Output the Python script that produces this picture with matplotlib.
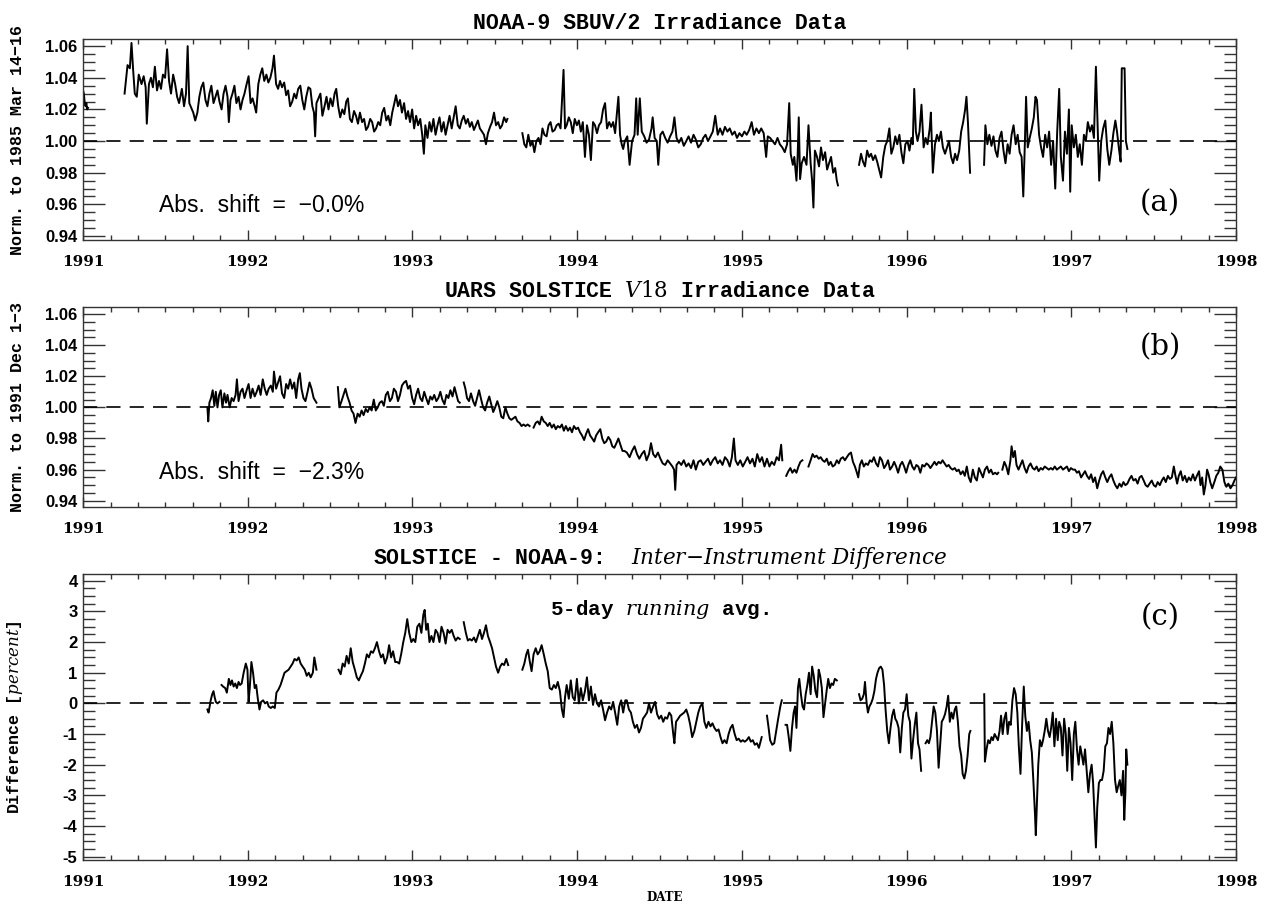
import numpy as np
import matplotlib
matplotlib.use("Agg")
import matplotlib.pyplot as plt
from matplotlib.ticker import MultipleLocator, FormatStrFormatter

# ==============================================================
# DATOS
# ==============================================================
GAP = float("nan")

# --- (a) NOAA-9 SBUV/2 ---
noaa_t = [
    1991.000, 1991.005, 1991.010, 1991.015, 1991.020, 1991.025, 1991.030, GAP,
    1991.252, 1991.270, 1991.284, 1991.294, 1991.304, 1991.314, 1991.326, 1991.338, 1991.355, 1991.368,
    1991.380, 1991.387, 1991.400, 1991.412, 1991.424, 1991.436, 1991.449, 1991.461, 1991.473, 1991.485,
    1991.498, 1991.510, 1991.522, 1991.534, 1991.547, 1991.559, 1991.571, 1991.583, 1991.600, 1991.613,
    1991.625, 1991.635, 1991.645, 1991.657, 1991.669, 1991.681, 1991.694, 1991.706, 1991.718, 1991.730,
    1991.743, 1991.755, 1991.767, 1991.779, 1991.792, 1991.804, 1991.816, 1991.828, 1991.841, 1991.853,
    1991.865, 1991.877, 1991.885, 1991.895, 1991.907, 1991.919, 1991.931, 1991.944, 1991.956, 1991.968,
    1991.980, 1991.993, 1992.005, 1992.017, 1992.029, 1992.042, 1992.051, 1992.064, 1992.076, 1992.088,
    1992.100, 1992.113, 1992.125, 1992.137, 1992.150, 1992.159, 1992.172, 1992.184, 1992.196, 1992.208,
    1992.221, 1992.233, 1992.245, 1992.257, 1992.270, 1992.282, 1992.294, 1992.306, 1992.319, 1992.331,
    1992.343, 1992.355, 1992.368, 1992.380, 1992.392, 1992.402, 1992.409, 1992.417, 1992.429, 1992.441,
    1992.453, 1992.466, 1992.478, 1992.490, 1992.502, 1992.515, 1992.527, 1992.537, 1992.549, 1992.561,
    1992.574, 1992.586, 1992.598, 1992.608, 1992.620, 1992.632, 1992.645, 1992.657, 1992.669, 1992.681,
    1992.694, 1992.706, 1992.718, 1992.730, 1992.743, 1992.755, 1992.767, 1992.779, 1992.792, 1992.804,
    1992.816, 1992.828, 1992.841, 1992.853, 1992.865, 1992.877, 1992.890, 1992.900, 1992.912, 1992.924,
    1992.936, 1992.949, 1992.961, 1992.973, 1992.985, 1992.998, 1993.010, 1993.022, 1993.034, 1993.047,
    1993.059, 1993.069, 1993.078, 1993.091, 1993.103, 1993.115, 1993.127, 1993.140, 1993.152, 1993.164,
    1993.176, 1993.189, 1993.201, 1993.213, 1993.225, 1993.238, 1993.250, 1993.262, 1993.275, 1993.287,
    1993.299, 1993.311, 1993.324, 1993.336, 1993.348, 1993.360, 1993.373, 1993.385, 1993.397, 1993.409,
    1993.422, 1993.434, 1993.446, 1993.458, 1993.471, 1993.483, 1993.495, 1993.507, 1993.520, 1993.532,
    1993.544, 1993.556, 1993.569, 1993.576, GAP,
    1993.667, 1993.679, 1993.691, 1993.703, 1993.716, 1993.728, 1993.740, 1993.752, 1993.765, 1993.777,
    1993.789, 1993.801, 1993.814, 1993.826, 1993.838, 1993.850, 1993.863, 1993.875, 1993.887, 1993.899,
    1993.917, 1993.926, 1993.936, 1993.949, 1993.961, 1993.973, 1993.985, 1993.998, 1994.010, 1994.022,
    1994.034, 1994.047, 1994.059, 1994.071, 1994.083, 1994.096, 1994.108, 1994.120, 1994.132, 1994.145,
    1994.157, 1994.169, 1994.181, 1994.194, 1994.206, 1994.218, 1994.230, 1994.250, 1994.260, 1994.270,
    1994.279, 1994.289, 1994.304, 1994.318, 1994.333, 1994.348, 1994.358, 1994.367, 1994.380, 1994.392,
    1994.407, 1994.421, 1994.436, 1994.451, 1994.458, 1994.470, 1994.483, 1994.492, 1994.505, 1994.519,
    1994.534, 1994.549, 1994.564, 1994.578, 1994.590, 1994.603, 1994.617, 1994.632, 1994.647, 1994.662,
    1994.676, 1994.691, 1994.706, 1994.720, 1994.735, 1994.750, 1994.765, 1994.779, 1994.794, 1994.809,
    1994.823, 1994.838, 1994.853, 1994.867, 1994.882, 1994.897, 1994.912, 1994.926, 1994.941, 1994.956,
    1994.970, 1994.985, 1995.000, 1995.015, 1995.029, 1995.044, 1995.059, 1995.073, 1995.088, 1995.103,
    1995.117, 1995.132, 1995.147, 1995.157, 1995.171, 1995.186, 1995.201, 1995.216, 1995.230, 1995.245,
    1995.260, 1995.274, 1995.287, 1995.296, 1995.309, 1995.318, 1995.331, 1995.338, 1995.345, 1995.353,
    1995.363, 1995.377, 1995.392, 1995.404, 1995.417, 1995.426, 1995.434, 1995.443, 1995.456, 1995.468,
    1995.480, 1995.492, 1995.505, 1995.517, 1995.529, 1995.541, 1995.554, 1995.566, 1995.576, 1995.583, GAP,
    1995.711, 1995.723, 1995.735, 1995.747, 1995.760, 1995.772, 1995.784, 1995.796, 1995.809, 1995.821,
    1995.833, 1995.845, 1995.858, 1995.870, 1995.882, 1995.895, 1995.907, 1995.919, 1995.931, 1995.943,
    1995.956, 1995.968, 1995.980, 1995.992, 1996.005, 1996.017, 1996.029, 1996.037, 1996.046, 1996.056,
    1996.066, 1996.078, 1996.090, 1996.103, 1996.115, 1996.127, 1996.140, 1996.147, 1996.159, 1996.172,
    1996.184, 1996.196, 1996.208, 1996.220, 1996.233, 1996.245, 1996.257, 1996.270, 1996.282, 1996.294,
    1996.306, 1996.319, 1996.331, 1996.343, 1996.355, 1996.363, 1996.372, 1996.380, 1996.385, GAP,
    1996.470, 1996.478, 1996.490, 1996.502, 1996.515, 1996.527, 1996.539, 1996.551, 1996.564, 1996.576,
    1996.588, 1996.600, 1996.613, 1996.625, 1996.637, 1996.649, 1996.662, 1996.674, 1996.686, 1996.698,
    1996.708, 1996.718, 1996.725, 1996.735, 1996.747, 1996.760, 1996.772, 1996.782, 1996.791, 1996.804,
    1996.816, 1996.828, 1996.841, 1996.853, 1996.865, 1996.877, 1996.889, 1996.902, 1996.914, 1996.926,
    1996.936, 1996.949, 1996.961, 1996.973, 1996.985, 1996.993, 1997.002, 1997.015, 1997.027, 1997.039,
    1997.051, 1997.064, 1997.076, 1997.088, 1997.100, 1997.113, 1997.125, 1997.137, 1997.149, 1997.159,
    1997.169, 1997.181, 1997.193, 1997.206, 1997.218, 1997.230, 1997.243, 1997.255, 1997.267, 1997.277,
    1997.289, 1997.299, 1997.306, 1997.323, 1997.331, 1997.340,
]
noaa_v = [
    1.032, 1.030, 1.024, 1.022, 1.024, 1.020, 1.021, GAP,
    1.030, 1.048, 1.046, 1.062, 1.045, 1.030, 1.028, 1.042, 1.036, 1.041,
    1.034, 1.011, 1.036, 1.040, 1.034, 1.047, 1.032, 1.038, 1.033, 1.042,
    1.040, 1.058, 1.038, 1.030, 1.042, 1.036, 1.028, 1.024, 1.033, 1.022,
    1.030, 1.060, 1.024, 1.021, 1.018, 1.013, 1.018, 1.028, 1.034, 1.037,
    1.026, 1.022, 1.030, 1.035, 1.024, 1.028, 1.032, 1.025, 1.020, 1.030,
    1.035, 1.028, 1.012, 1.026, 1.030, 1.035, 1.024, 1.028, 1.020, 1.026,
    1.030, 1.036, 1.041, 1.024, 1.027, 1.022, 1.018, 1.036, 1.042, 1.046,
    1.038, 1.042, 1.037, 1.040, 1.046, 1.054, 1.036, 1.033, 1.038, 1.034,
    1.037, 1.029, 1.032, 1.022, 1.025, 1.030, 1.027, 1.033, 1.035, 1.026,
    1.020, 1.028, 1.034, 1.033, 1.022, 1.018, 1.003, 1.024, 1.027, 1.030,
    1.016, 1.022, 1.028, 1.020, 1.027, 1.022, 1.030, 1.033, 1.022, 1.015,
    1.020, 1.017, 1.025, 1.027, 1.014, 1.012, 1.019, 1.016, 1.011, 1.018,
    1.012, 1.014, 1.007, 1.009, 1.014, 1.012, 1.006, 1.008, 1.012, 1.010,
    1.018, 1.021, 1.013, 1.016, 1.010, 1.018, 1.024, 1.029, 1.022, 1.026,
    1.018, 1.024, 1.014, 1.019, 1.012, 1.020, 1.008, 1.016, 1.010, 1.014,
    1.004, 0.992, 1.010, 1.002, 1.012, 1.006, 1.014, 1.004, 1.010, 1.015,
    1.006, 1.012, 1.004, 1.010, 1.016, 1.008, 1.015, 1.022, 1.010, 1.008,
    1.013, 1.016, 1.011, 1.014, 1.009, 1.012, 1.007, 1.010, 1.013, 1.008,
    1.006, 1.004, 0.998, 1.005, 1.009, 1.012, 1.018, 1.010, 1.012, 1.008,
    1.010, 1.015, 1.012, 1.014, GAP,
    1.005, 0.998, 0.996, 1.004, 0.997, 1.000, 0.993, 1.000, 1.002, 0.998,
    1.008, 1.004, 1.003, 1.010, 1.012, 1.006, 1.007, 1.010, 1.011, 1.008,
    1.045, 1.008, 1.010, 1.015, 1.012, 1.005, 1.014, 1.010, 1.013, 1.006,
    1.012, 0.990, 1.010, 1.004, 0.988, 1.012, 1.010, 1.005, 1.010, 1.012,
    1.020, 1.024, 1.008, 1.012, 1.009, 1.012, 1.005, 1.028, 1.004, 0.998,
    0.995, 1.000, 1.003, 0.985, 1.000, 1.004, 1.027, 1.004, 1.027, 1.006,
    1.003, 0.999, 1.001, 1.008, 1.015, 1.002, 1.000, 0.985, 1.004, 1.006,
    1.002, 0.999, 1.003, 1.006, 1.015, 1.002, 0.999, 1.002, 0.997, 1.000,
    1.003, 0.999, 1.004, 1.001, 0.996, 0.998, 1.002, 1.004, 1.000, 1.003,
    1.006, 1.016, 1.004, 1.008, 1.004, 1.009, 1.006, 1.008, 1.004, 1.006,
    1.002, 1.005, 1.003, 1.006, 1.004, 1.007, 1.012, 1.004, 1.008, 1.005,
    1.008, 1.005, 0.990, 1.003, 1.002, 1.000, 0.998, 1.002, 0.998, 0.996,
    0.993, 0.998, 1.024, 0.992, 0.985, 0.990, 0.975, 0.990, 1.015, 0.976,
    0.986, 0.990, 0.985, 1.010, 0.986, 0.975, 0.958, 0.994, 0.990, 0.984,
    0.996, 0.988, 0.993, 0.982, 0.986, 0.990, 0.980, 0.983, 0.975, 0.972, GAP,
    0.985, 0.992, 0.987, 0.984, 0.994, 0.990, 0.992, 0.988, 0.991, 0.987,
    0.982, 0.977, 0.990, 0.997, 1.000, 1.008, 0.992, 0.996, 1.003, 0.998,
    1.004, 0.993, 0.986, 0.998, 1.000, 0.994, 1.002, 0.998, 1.033, 1.006,
    1.000, 1.006, 1.023, 0.996, 1.002, 0.998, 1.008, 1.018, 0.980, 0.998,
    1.004, 1.000, 1.006, 0.996, 0.992, 0.996, 1.000, 0.990, 0.986, 0.992,
    0.988, 0.994, 1.006, 1.012, 1.020, 1.028, 1.012, 0.992, 0.980, GAP,
    0.985, 1.010, 0.998, 1.004, 0.997, 1.003, 0.994, 0.990, 1.002, 1.006,
    0.994, 0.986, 0.998, 0.992, 1.004, 1.010, 0.998, 1.004, 0.993, 0.990,
    0.965, 1.000, 1.028, 0.996, 1.002, 1.008, 1.015, 1.028, 1.026, 1.004,
    0.996, 0.990, 1.004, 0.996, 1.006, 0.985, 1.000, 0.970, 1.006, 1.033,
    0.990, 0.975, 1.006, 0.992, 1.020, 0.968, 1.010, 0.996, 1.004, 0.990,
    0.998, 0.985, 1.004, 1.000, 1.012, 1.006, 1.010, 1.002, 1.047, 1.010,
    0.975, 1.000, 1.008, 1.013, 0.995, 0.985, 0.994, 1.005, 1.013, 1.006,
    0.995, 0.987, 1.046, 1.046, 1.000, 0.995,
]

# --- (b) UARS SOLSTICE V18 ---
sol_t = [
    1991.755, 1991.760, 1991.767, 1991.777, 1991.787, 1991.797, 1991.806, 1991.816, 1991.826, 1991.836,
    1991.846, 1991.858, 1991.868, 1991.877, 1991.890, 1991.902, 1991.914, 1991.926, 1991.934, 1991.944,
    1991.956, 1991.968, 1991.980, 1991.993, 1992.005, 1992.017, 1992.029, 1992.042, 1992.054, 1992.066,
    1992.078, 1992.091, 1992.103, 1992.115, 1992.127, 1992.140, 1992.152, 1992.159, 1992.172, 1992.184,
    1992.196, 1992.208, 1992.221, 1992.233, 1992.245, 1992.257, 1992.270, 1992.282, 1992.294, 1992.306,
    1992.316, 1992.326, 1992.338, 1992.350, 1992.363, 1992.375, 1992.387, 1992.400, 1992.417, GAP,
    1992.547, 1992.556, 1992.569, 1992.581, 1992.593, 1992.605, 1992.618, 1992.630, 1992.642, 1992.654,
    1992.667, 1992.679, 1992.691, 1992.703, 1992.716, 1992.728, 1992.740, 1992.752, 1992.765, 1992.777,
    1992.789, 1992.801, 1992.814, 1992.826, 1992.838, 1992.850, 1992.863, 1992.875, 1992.887, 1992.900,
    1992.912, 1992.924, 1992.936, 1992.949, 1992.961, 1992.973, 1992.985, 1992.998, 1993.010, 1993.022,
    1993.034, 1993.047, 1993.059, 1993.071, 1993.083, 1993.096, 1993.108, 1993.120, 1993.132, 1993.145,
    1993.157, 1993.169, 1993.181, 1993.194, 1993.206, 1993.218, 1993.230, 1993.243, 1993.255, 1993.267,
    1993.277, 1993.287, GAP,
    1993.311, 1993.321, 1993.331, 1993.343, 1993.355, 1993.368, 1993.380, 1993.392, 1993.404, 1993.417,
    1993.429, 1993.441, 1993.453, 1993.466, 1993.478, 1993.490, 1993.502, 1993.515, 1993.527, 1993.539,
    1993.551, 1993.564, 1993.576, 1993.588, 1993.600, 1993.613, 1993.625, 1993.637, 1993.650, 1993.662,
    1993.674, 1993.686, 1993.699, 1993.711, GAP,
    1993.735, 1993.748, 1993.760, 1993.772, 1993.784, 1993.797, 1993.809, 1993.821, 1993.833, 1993.846,
    1993.858, 1993.870, 1993.882, 1993.895, 1993.907, 1993.919, 1993.931, 1993.944, 1993.956, 1993.968,
    1993.980, 1993.993, 1994.005, 1994.017, 1994.029, 1994.042, 1994.054, 1994.066, 1994.078, 1994.091,
    1994.103, 1994.115, 1994.127, 1994.140, 1994.152, 1994.164, 1994.176, 1994.189, 1994.201, 1994.213,
    1994.225, 1994.238, 1994.250, 1994.262, 1994.275, 1994.287, 1994.301, 1994.318, 1994.333, 1994.348,
    1994.363, 1994.377, 1994.392, 1994.407, 1994.421, 1994.436, 1994.448, 1994.461, 1994.475, 1994.490,
    1994.505, 1994.519, 1994.534, 1994.549, 1994.564, 1994.578, 1994.588, 1994.595, 1994.603, 1994.617,
    1994.632, 1994.647, 1994.662, 1994.676, 1994.691, 1994.706, 1994.720, 1994.735, 1994.750, 1994.765,
    1994.779, 1994.794, 1994.809, 1994.823, 1994.838, 1994.853, 1994.867, 1994.882, 1994.897, 1994.912,
    1994.926, 1994.939, 1994.951, 1994.961, 1994.975, 1994.990, 1995.005, 1995.020, 1995.034, 1995.049,
    1995.064, 1995.078, 1995.093, 1995.108, 1995.122, 1995.137, 1995.152, 1995.167, 1995.181, 1995.196,
    1995.211, 1995.225, 1995.238, 1995.245, GAP,
    1995.269, 1995.282, 1995.294, 1995.306, 1995.319, 1995.331, 1995.343, 1995.355, 1995.367, GAP,
    1995.404, 1995.417, 1995.429, 1995.441, 1995.453, 1995.466, 1995.478, 1995.490, 1995.502, 1995.515,
    1995.527, 1995.539, 1995.551, 1995.564, 1995.576, 1995.588, 1995.600, 1995.613, 1995.625, 1995.637,
    1995.650, 1995.662, 1995.674, 1995.686, 1995.698, 1995.706, 1995.716, 1995.728, 1995.740, 1995.752,
    1995.765, 1995.777, 1995.789, 1995.801, 1995.814, 1995.826, 1995.838, 1995.850, 1995.863, 1995.875,
    1995.887, 1995.899, 1995.912, 1995.924, 1995.936, 1995.948, 1995.961, 1995.973, 1995.985, 1995.997,
    1996.010, 1996.022, 1996.034, 1996.046, 1996.059, 1996.071, 1996.083, 1996.095, 1996.108, 1996.120,
    1996.132, 1996.144, 1996.157, 1996.169, 1996.181, 1996.194, 1996.206, 1996.218, 1996.230, 1996.243,
    1996.255, 1996.267, 1996.279, 1996.292, 1996.304, 1996.316, 1996.328, 1996.341, 1996.353, 1996.365,
    1996.377, 1996.389, 1996.402, 1996.414, 1996.426, 1996.439, 1996.451, 1996.463, 1996.475, 1996.488,
    1996.500, 1996.512, 1996.524, 1996.537, 1996.549, 1996.556, GAP,
    1996.581, 1996.593, 1996.605, 1996.617, 1996.630, 1996.637, 1996.647, 1996.657, 1996.667, 1996.679,
    1996.691, 1996.703, 1996.716, 1996.728, 1996.740, 1996.752, 1996.765, 1996.777, 1996.789, 1996.801,
    1996.814, 1996.826, 1996.838, 1996.850, 1996.863, 1996.875, 1996.887, 1996.899, 1996.912, 1996.924,
    1996.936, 1996.949, 1996.961, 1996.973, 1996.985, 1996.997, 1997.010, 1997.022, 1997.034, 1997.046,
    1997.059, 1997.071, 1997.083, 1997.095, 1997.108, 1997.120, 1997.132, 1997.144, 1997.157, 1997.169,
    1997.181, 1997.193, 1997.206, 1997.218, 1997.230, 1997.243, 1997.255, 1997.267, 1997.279, 1997.292,
    1997.304, 1997.316, 1997.328, 1997.340, 1997.353, 1997.365, 1997.377, 1997.390, 1997.402, 1997.414,
    1997.426, 1997.439, 1997.451, 1997.463, 1997.475, 1997.488, 1997.500, 1997.512, 1997.524, 1997.537,
    1997.549, 1997.561, 1997.573, 1997.586, 1997.598, 1997.610, 1997.622, 1997.632, 1997.642, 1997.652,
    1997.664, 1997.676, 1997.689, 1997.701, 1997.713, 1997.725, 1997.738, 1997.750, 1997.762, 1997.775,
    1997.784, 1997.794, 1997.804, 1997.814, 1997.824, 1997.833, 1997.843, 1997.855, 1997.868, 1997.880,
    1997.892, 1997.904, 1997.917, 1997.929, 1997.941, 1997.953, 1997.966, 1997.978, 1997.990, 1998.000,
]
sol_v = [
    1.000, 0.991, 1.003, 1.006, 1.011, 1.001, 1.010, 1.000, 1.008, 1.011,
    1.000, 1.009, 1.003, 1.008, 1.000, 1.006, 1.004, 1.008, 1.018, 1.004,
    1.010, 1.012, 1.006, 1.011, 1.015, 1.006, 1.012, 1.007, 1.010, 1.014,
    1.008, 1.018, 1.012, 1.008, 1.012, 1.014, 1.010, 1.023, 1.012, 1.016,
    1.020, 1.009, 1.006, 1.015, 1.012, 1.018, 1.012, 1.016, 1.006, 1.018,
    1.022, 1.012, 1.006, 1.004, 1.010, 1.016, 1.012, 1.006, 1.003, GAP,
    1.013, 1.000, 1.004, 1.008, 1.012, 1.007, 1.003, 0.998, 0.996, 0.990,
    0.996, 0.994, 0.998, 0.995, 0.999, 0.997, 1.000, 0.998, 1.005, 0.998,
    1.000, 1.003, 1.004, 1.001, 1.008, 1.010, 1.004, 1.006, 1.012, 1.010,
    1.004, 1.008, 1.014, 1.016, 1.017, 1.012, 1.014, 1.006, 1.002, 1.008,
    1.012, 1.006, 1.004, 1.010, 1.006, 1.002, 1.007, 1.005, 1.008, 1.004,
    1.006, 1.010, 1.005, 1.002, 1.008, 1.006, 1.011, 1.007, 1.013, 1.008,
    1.004, 1.003, GAP,
    1.016, 1.012, 1.006, 1.004, 1.009, 1.004, 1.001, 1.006, 1.011, 1.005,
    1.000, 0.998, 1.003, 1.007, 1.002, 0.997, 1.000, 1.004, 1.000, 0.994,
    0.993, 1.000, 0.996, 0.993, 0.992, 0.993, 0.994, 0.991, 0.990, 0.988,
    0.989, 0.988, 0.989, 0.988, GAP,
    0.987, 0.990, 0.991, 0.989, 0.994, 0.991, 0.990, 0.988, 0.990, 0.987,
    0.989, 0.986, 0.988, 0.987, 0.989, 0.985, 0.988, 0.985, 0.987, 0.984,
    0.988, 0.986, 0.987, 0.984, 0.982, 0.979, 0.983, 0.986, 0.982, 0.980,
    0.978, 0.982, 0.984, 0.986, 0.980, 0.977, 0.978, 0.981, 0.979, 0.975,
    0.974, 0.977, 0.980, 0.976, 0.972, 0.972, 0.971, 0.968, 0.972, 0.975,
    0.970, 0.967, 0.970, 0.972, 0.966, 0.970, 0.977, 0.970, 0.968, 0.971,
    0.967, 0.964, 0.963, 0.966, 0.964, 0.962, 0.960, 0.947, 0.963, 0.965,
    0.963, 0.966, 0.962, 0.964, 0.961, 0.966, 0.960, 0.965, 0.966, 0.963,
    0.965, 0.967, 0.963, 0.966, 0.968, 0.964, 0.966, 0.963, 0.968, 0.966,
    0.962, 0.968, 0.980, 0.966, 0.963, 0.966, 0.962, 0.965, 0.968, 0.964,
    0.967, 0.962, 0.970, 0.965, 0.968, 0.962, 0.967, 0.962, 0.965, 0.963,
    0.968, 0.966, 0.976, 0.966, GAP,
    0.956, 0.959, 0.961, 0.958, 0.960, 0.958, 0.962, 0.965, 0.966, GAP,
    0.962, 0.966, 0.970, 0.968, 0.969, 0.967, 0.968, 0.966, 0.965, 0.967,
    0.963, 0.965, 0.962, 0.963, 0.966, 0.964, 0.967, 0.968, 0.966, 0.968,
    0.970, 0.971, 0.965, 0.962, 0.958, 0.955, 0.963, 0.966, 0.962, 0.964,
    0.963, 0.966, 0.965, 0.968, 0.964, 0.962, 0.968, 0.966, 0.961, 0.963,
    0.966, 0.960, 0.962, 0.965, 0.962, 0.958, 0.963, 0.965, 0.962, 0.958,
    0.963, 0.966, 0.962, 0.960, 0.963, 0.962, 0.958, 0.963, 0.962, 0.964,
    0.963, 0.961, 0.963, 0.965, 0.963, 0.965, 0.964, 0.966, 0.964, 0.962,
    0.963, 0.961, 0.960, 0.961, 0.959, 0.960, 0.957, 0.959, 0.956, 0.962,
    0.955, 0.952, 0.960, 0.955, 0.953, 0.961, 0.958, 0.955, 0.960, 0.962,
    0.958, 0.960, 0.957, 0.958, 0.957, 0.958, GAP,
    0.960, 0.965, 0.962, 0.957, 0.966, 0.975, 0.968, 0.972, 0.963, 0.960,
    0.963, 0.966, 0.961, 0.958, 0.962, 0.964, 0.961, 0.960, 0.962, 0.959,
    0.961, 0.960, 0.962, 0.961, 0.960, 0.961, 0.960, 0.962, 0.960, 0.961,
    0.962, 0.960, 0.961, 0.962, 0.959, 0.961, 0.960, 0.960, 0.958, 0.959,
    0.955, 0.957, 0.959, 0.956, 0.954, 0.957, 0.952, 0.955, 0.948, 0.953,
    0.957, 0.959, 0.955, 0.952, 0.955, 0.957, 0.953, 0.950, 0.948, 0.951,
    0.949, 0.952, 0.950, 0.951, 0.954, 0.956, 0.953, 0.954, 0.951, 0.955,
    0.956, 0.953, 0.950, 0.949, 0.951, 0.953, 0.950, 0.949, 0.952, 0.950,
    0.953, 0.955, 0.952, 0.956, 0.954, 0.955, 0.962, 0.956, 0.951, 0.956,
    0.959, 0.953, 0.956, 0.952, 0.955, 0.953, 0.957, 0.953, 0.956, 0.959,
    0.950, 0.955, 0.944, 0.950, 0.960, 0.957, 0.952, 0.948, 0.952, 0.956,
    0.958, 0.962, 0.960, 0.952, 0.949, 0.951, 0.948, 0.950, 0.953, 0.955,
]

# --- (c) SOLSTICE - NOAA-9, media móvil de 5 días [%] ---
dif_t = [
    1991.755, 1991.762, 1991.775, 1991.784, 1991.792, 1991.799, 1991.806, 1991.816, 1991.828, GAP,
    1991.841, 1991.850, 1991.863, 1991.873, 1991.885, 1991.895, 1991.904, 1991.914, 1991.924, 1991.934,
    1991.944, 1991.953, 1991.963, 1991.975, 1991.988, 1991.998, 1992.005, 1992.012, 1992.022, 1992.032,
    1992.042, 1992.051, 1992.061, 1992.071, 1992.081, 1992.093, 1992.105, 1992.118, 1992.127, 1992.140,
    1992.152, 1992.164, 1992.174, 1992.186, 1992.199, 1992.211, 1992.223, 1992.235, 1992.248, 1992.260,
    1992.272, 1992.284, 1992.297, 1992.309, 1992.321, 1992.333, 1992.346, 1992.358, 1992.370, 1992.382,
    1992.395, 1992.404, 1992.417, GAP,
    1992.551, 1992.564, 1992.576, 1992.588, 1992.600, 1992.613, 1992.625, 1992.637, 1992.650, 1992.662,
    1992.674, 1992.686, 1992.699, 1992.711, 1992.723, 1992.735, 1992.748, 1992.760, 1992.772, 1992.784,
    1992.797, 1992.809, 1992.821, 1992.833, 1992.846, 1992.858, 1992.870, 1992.882, 1992.895, 1992.907,
    1992.919, 1992.931, 1992.944, 1992.956, 1992.968, 1992.980, 1992.993, 1993.005, 1993.017, 1993.029,
    1993.042, 1993.054, 1993.066, 1993.074, 1993.083, 1993.093, 1993.103, 1993.115, 1993.127, 1993.140,
    1993.152, 1993.164, 1993.176, 1993.189, 1993.201, 1993.213, 1993.225, 1993.238, 1993.250, 1993.262,
    1993.275, 1993.287, GAP,
    1993.311, 1993.324, 1993.336, 1993.348, 1993.360, 1993.373, 1993.385, 1993.397, 1993.409, 1993.422,
    1993.434, 1993.446, 1993.458, 1993.471, 1993.483, 1993.495, 1993.507, 1993.520, 1993.532, 1993.544,
    1993.556, 1993.569, 1993.581, GAP,
    1993.667, 1993.679, 1993.691, 1993.701, 1993.711, 1993.723, 1993.735, 1993.748, 1993.760, 1993.772,
    1993.784, 1993.797, 1993.809, 1993.821, 1993.833, 1993.846, 1993.858, 1993.870, 1993.882, 1993.895,
    1993.907, 1993.917, 1993.926, 1993.936, 1993.949, 1993.961, 1993.973, 1993.985, 1993.998, 1994.010,
    1994.022, 1994.034, 1994.047, 1994.059, 1994.071, 1994.083, 1994.096, 1994.108, 1994.120, 1994.132,
    1994.145, 1994.157, 1994.169, 1994.181, 1994.194, 1994.206, 1994.218, 1994.230, 1994.243, 1994.255,
    1994.267, 1994.279, 1994.292, 1994.301, 1994.314, 1994.326, 1994.338, 1994.350, 1994.363, 1994.375,
    1994.387, 1994.399, 1994.412, 1994.424, 1994.436, 1994.448, 1994.461, 1994.473, 1994.485, 1994.497,
    1994.510, 1994.522, 1994.534, 1994.546, 1994.559, 1994.571, 1994.583, 1994.590, 1994.600, 1994.613,
    1994.625, 1994.637, 1994.649, 1994.662, 1994.674, 1994.686, 1994.698, 1994.711, 1994.723, 1994.735,
    1994.747, 1994.760, 1994.772, 1994.784, 1994.797, 1994.809, 1994.821, 1994.833, 1994.846, 1994.858,
    1994.870, 1994.882, 1994.894, 1994.907, 1994.919, 1994.931, 1994.943, 1994.956, 1994.968, 1994.980,
    1994.993, 1995.005, 1995.017, 1995.029, 1995.042, 1995.054, 1995.066, 1995.078, 1995.091, 1995.103,
    1995.113, 1995.120, GAP,
    1995.152, 1995.162, 1995.171, 1995.184, 1995.196, 1995.208, 1995.220, 1995.233, 1995.242, GAP,
    1995.265, 1995.274, 1995.284, 1995.294, 1995.304, 1995.314, 1995.323, 1995.331, 1995.340, 1995.348,
    1995.358, 1995.368, 1995.377, 1995.387, 1995.397, 1995.407, 1995.417, 1995.426, 1995.436, 1995.446,
    1995.456, 1995.466, 1995.475, 1995.485, 1995.495, 1995.505, 1995.515, 1995.524, 1995.534, 1995.544,
    1995.554, 1995.564, 1995.576, GAP,
    1995.711, 1995.720, 1995.730, 1995.740, 1995.747, 1995.757, 1995.765, 1995.774, 1995.784, 1995.794,
    1995.804, 1995.814, 1995.823, 1995.833, 1995.843, 1995.853, 1995.863, 1995.872, 1995.882, 1995.892,
    1995.902, 1995.912, 1995.922, 1995.931, 1995.941, 1995.951, 1995.961, 1995.971, 1995.980, 1995.990,
    1996.000, 1996.010, 1996.020, 1996.029, 1996.039, 1996.049, 1996.059, 1996.069, 1996.078, 1996.088, GAP,
    1996.115, 1996.125, 1996.135, 1996.144, 1996.154, 1996.164, 1996.174, 1996.184, 1996.194, 1996.203,
    1996.213, 1996.223, 1996.233, 1996.243, 1996.252, 1996.262, 1996.272, 1996.282, 1996.292, 1996.301,
    1996.311, 1996.321, 1996.331, 1996.340, 1996.350, 1996.360, 1996.370, 1996.380, 1996.387, GAP,
    1996.471, 1996.475, 1996.485, 1996.495, 1996.505, 1996.515, 1996.524, 1996.534, 1996.544, 1996.554,
    1996.564, 1996.573, 1996.583, 1996.593, 1996.603, 1996.613, 1996.622, 1996.632, 1996.642, 1996.652,
    1996.662, 1996.672, 1996.681, 1996.691, 1996.701, 1996.711, 1996.720, 1996.730, 1996.740, 1996.750,
    1996.760, 1996.769, 1996.779, 1996.784, 1996.791, 1996.799, 1996.809, 1996.819, 1996.828, 1996.838,
    1996.848, 1996.858, 1996.868, 1996.877, 1996.887, 1996.897, 1996.907, 1996.917, 1996.926, 1996.936,
    1996.946, 1996.956, 1996.966, 1996.975, 1996.985, 1996.995, 1997.005, 1997.015, 1997.024, 1997.034,
    1997.044, 1997.054, 1997.064, 1997.073, 1997.083, 1997.093, 1997.103, 1997.113, 1997.123, 1997.132,
    1997.142, 1997.149, 1997.157, 1997.167, 1997.176, 1997.186, 1997.196, 1997.206, 1997.216, 1997.225,
    1997.235, 1997.245, 1997.255, 1997.265, 1997.275, 1997.284, 1997.294, 1997.304, 1997.314, 1997.321,
    1997.328, 1997.333, 1997.340,
]
dif_v = [
    -0.2, -0.3, 0.1, 0.3, 0.4, 0.2, 0.05, 0.0, 0.05, GAP,
    0.6, 0.55, 0.5, 0.35, 0.8, 0.6, 0.75, 0.55, 0.65, 0.5,
    0.7, 0.6, 0.65, 1.0, 1.3, 1.1, 0.05, 0.5, 1.35, 1.0,
    0.5, 0.6, 0.15, -0.2, 0.05, 0.1, 0.0, 0.05, -0.1, -0.15,
    -0.1, -0.15, 0.35, 0.45, 0.6, 0.8, 1.0, 1.05, 1.1, 1.2,
    1.3, 1.45, 1.4, 1.5, 1.3, 1.2, 1.1, 0.9, 1.0, 0.85,
    1.0, 1.5, 1.1, GAP,
    1.1, 0.95, 1.3, 1.2, 1.55, 1.3, 1.8, 1.35, 1.1, 0.85,
    0.75, 0.9, 1.05, 1.3, 1.6, 1.5, 1.7, 1.65, 1.8, 2.0,
    1.7, 1.5, 1.6, 1.3, 1.5, 1.9, 1.5, 1.7, 1.35, 1.35,
    1.3, 1.6, 2.0, 2.3, 2.75, 2.3, 2.0, 2.1, 2.0, 2.5,
    2.6, 2.3, 2.9, 3.05, 2.4, 2.6, 2.0, 2.2, 2.0, 2.4,
    2.3, 2.0, 2.5, 2.3, 1.95, 2.4, 2.3, 2.4, 2.2, 2.05,
    2.15, 2.1, GAP,
    2.65, 2.3, 2.05, 2.1, 2.05, 2.15, 2.0, 2.2, 2.4, 2.1,
    2.3, 2.55, 2.2, 2.0, 1.8, 1.5, 1.2, 1.0, 1.2, 1.3,
    1.25, 1.45, 1.25, GAP,
    1.1, 1.3, 1.6, 1.75, 1.4, 1.05, 1.6, 1.8, 1.6, 1.7,
    1.9, 1.6, 1.3, 1.05, 0.5, 0.45, 0.6, 0.5, 0.7, 0.4,
    -0.2, -0.45, 0.2, 0.6, 0.15, 0.75, 0.2, 0.1, 0.8, 0.0,
    0.5, 0.1, 0.4, 0.85, 0.1, 0.55, -0.05, 0.3, 0.0, -0.1,
    0.1, -0.2, -0.55, -0.3, -0.1, -0.2, 0.05, -0.3, -0.7, -0.1,
    0.1, -0.3, 0.1, 0.1, -0.2, -0.3, -0.6, -0.8, -0.7, -0.95,
    -0.8, -0.5, -0.4, -0.3, 0.0, -0.3, -0.1, 0.05, -0.35, -0.5,
    -0.4, -0.6, -0.45, -0.5, -0.3, -0.4, -1.0, -1.3, -0.6, -0.5,
    -0.4, -0.35, -0.3, -0.2, -0.4, -0.7, -1.1, -0.9, -0.6, -0.3,
    -0.1, 0.0, -0.6, -0.8, -0.6, -0.75, -0.65, -0.8, -0.9, -0.85,
    -1.1, -1.3, -1.2, -1.3, -1.0, -0.8, -0.7, -1.0, -1.2, -1.15,
    -1.25, -1.2, -1.25, -1.2, -1.1, -1.25, -1.2, -1.35, -1.3, -1.45,
    -1.25, -1.1, GAP,
    -0.4, -0.8, -1.2, -1.35, -1.3, -0.9, -0.5, -0.1, 0.1, GAP,
    -0.7, -0.7, -1.1, -1.55, -0.8, -0.3, -0.1, -0.8, 0.5, 0.8,
    0.3, -0.1, -0.2, 0.3, 0.6, 1.0, 0.3, 1.2, 0.9, 0.4,
    0.2, 1.1, 0.9, 0.5, -0.45, 0.0, 0.45, 0.8, 0.5, 0.65,
    0.6, 0.8, 0.75, GAP,
    0.3, 0.1, 0.15, 0.3, 0.7, 0.0, -0.3, -0.1, 0.0, 0.15,
    0.4, 0.8, 1.0, 1.15, 1.2, 1.1, 0.6, -0.2, -0.9, -1.3,
    -0.8, -0.4, -0.2, -0.5, -0.6, -0.8, -1.6, -0.8, -0.3, -0.2,
    0.3, -0.4, -0.6, -1.8, -1.2, -0.7, -0.3, -1.3, -1.5, -2.2, GAP,
    -1.3, -1.2, -1.3, -1.1, -0.6, -0.1, -0.3, -0.9, -2.1, -1.4,
    -0.6, -0.5, -0.35, -0.1, 0.25, -0.6, -0.3, -0.5, -0.2, -0.1,
    -0.6, -1.4, -1.7, -2.3, -2.45, -2.2, -1.7, -1.0, -0.9, GAP,
    0.3, -1.9, -1.5, -1.2, -1.3, -1.1, -1.2, -1.0, -1.1, -1.2,
    -0.9, -0.4, -1.0, -0.5, -0.3, -1.0, -0.6, -0.7, 0.1, 0.5,
    0.3, -0.3, -1.4, -2.3, -0.7, 0.55, -0.4, -0.9, -0.6, -1.2,
    -1.6, -2.5, -3.6, -4.3, -3.2, -2.0, -1.2, -1.4, -1.2, -0.9,
    -0.5, -0.9, -1.1, -0.8, -0.3, -1.4, -0.5, -1.2, -0.6, -0.8,
    -1.7, -0.5, -1.0, -2.2, -0.8, -1.3, -2.5, -1.0, -0.6, -1.5,
    -2.0, -1.4, -1.7, -2.0, -1.5, -2.2, -2.9, -2.3, -2.0, -2.6,
    -3.8, -4.7, -3.4, -2.6, -2.5, -2.5, -2.2, -1.4, -1.3, -0.8,
    -1.0, -0.6, -1.3, -2.5, -2.9, -2.7, -2.5, -3.0, -2.2, -3.8,
    -2.9, -1.5, -2.0,
]

YEARS = [1991, 1992, 1993, 1994, 1995, 1996, 1997, 1998]

# ==============================================================
# ESTILO
# ==============================================================
plt.rcParams["mathtext.fontset"] = "custom"
plt.rcParams["mathtext.rm"] = "DejaVu Serif"
plt.rcParams["mathtext.it"] = "DejaVu Serif:italic"
plt.rcParams["mathtext.bf"] = "DejaVu Serif:bold"

FRAME = "#333333"
SERIF = "DejaVu Serif"
MONO = "Liberation Mono"
SANS = "Liberation Sans"


def preparar_eje(ax, ymin, ymax, ymaj, ymin_step, fmt, ylabel, titulo):
    ax.set_xlim(1991, 1998)
    ax.set_ylim(ymin, ymax)
    ax.xaxis.set_minor_locator(MultipleLocator(1 / 6))
    ax.yaxis.set_major_locator(MultipleLocator(ymaj))
    ax.yaxis.set_minor_locator(MultipleLocator(ymin_step))
    ax.yaxis.set_major_formatter(FormatStrFormatter(fmt))
    ax.set_xticks(YEARS)
    ax.set_xticklabels([str(y) for y in YEARS])

    ax.tick_params(which="both", direction="in", top=True, right=True,
                   color=FRAME, width=1.0)
    ax.tick_params(axis="x", which="major", length=7.5, pad=11)
    ax.tick_params(axis="x", which="minor", length=3.8)
    ax.tick_params(axis="y", which="major", length=16, pad=4)
    ax.tick_params(axis="y", which="minor", length=8.5)
    for lab in ax.get_xticklabels():
        lab.set_family(SERIF)
        lab.set_fontweight("bold")
        lab.set_fontsize(11)
    for lab in ax.get_yticklabels():
        lab.set_family(SANS)
        lab.set_fontweight("bold")
        lab.set_fontsize(12)
    for sp in ax.spines.values():
        sp.set_color(FRAME)
        sp.set_linewidth(1.0)

    ax.set_ylabel(ylabel, family=MONO, fontweight="bold", fontsize=12)
    ax.yaxis.set_label_coords(-0.050, 0.5)
    ax.set_title(titulo, family=MONO, fontweight="bold", fontsize=15.5, pad=7)


# ==============================================================
# FIGURA
# ==============================================================
fig = plt.figure(figsize=(12.7, 9.05), dpi=100)
ax_a = fig.add_axes([0.0654, 0.7348, 0.9079, 0.2221])
ax_b = fig.add_axes([0.0654, 0.4398, 0.9079, 0.2210])
ax_c = fig.add_axes([0.0654, 0.0497, 0.9079, 0.3160])

dash = (0, (8.5, 5.5))
LW = 1.4

# ----------- (a) ----------- #
ax_a.plot(noaa_t, noaa_v, color="black", lw=LW)
ax_a.axhline(1.0, color="black", lw=1.2, ls=dash)
preparar_eje(ax_a, 0.9375, 1.0645, 0.02, 0.005, "%.2f",
             "Norm. to 1985 Mar 14\u221216", "NOAA-9 SBUV/2 Irradiance Data")
ax_a.text(0.066, 0.174, "Abs.  shift  =  \u22120.0%", transform=ax_a.transAxes,
          family=SANS, fontsize=16.5, va="center", ha="left")
ax_a.text(0.934, 0.184, "(a)", transform=ax_a.transAxes,
          family=SERIF, fontsize=21, va="center", ha="center")

# ----------- (b) ----------- #
ax_b.plot(sol_t, sol_v, color="black", lw=LW)
ax_b.axhline(1.0, color="black", lw=1.2, ls=dash)
preparar_eje(ax_b, 0.936, 1.0645, 0.02, 0.005, "%.2f",
             "Norm. to 1991 Dec 1\u22123",
             r"UARS SOLSTICE $\mathit{V18}$ Irradiance Data")
ax_b.text(0.066, 0.17, "Abs.  shift  =  \u22122.3%", transform=ax_b.transAxes,
          family=SANS, fontsize=16.5, va="center", ha="left")
ax_b.text(0.934, 0.80, "(b)", transform=ax_b.transAxes,
          family=SERIF, fontsize=21, va="center", ha="center")

# ----------- (c) ----------- #
ax_c.plot(dif_t, dif_v, color="black", lw=LW)
ax_c.axhline(0.0, color="black", lw=1.2, ls=dash)
preparar_eje(ax_c, -5.11, 4.22, 1, 0.25, "%d",
             r"Difference [$\mathit{percent}$]",
             r"SOLSTICE - NOAA-9:  $\mathit{Inter{-}Instrument\ Difference}$")
ax_c.text(0.5, 0.876, r"5-day $\mathit{running}$ avg.", transform=ax_c.transAxes,
          family=MONO, fontweight="bold", fontsize=15, va="center", ha="center")
ax_c.text(0.934, 0.85, "(c)", transform=ax_c.transAxes,
          family=SERIF, fontsize=21, va="center", ha="center")

fig.text(665 / 1270, 1 - 897 / 905, "DATE", family=SERIF, fontweight="bold",
         fontsize=8.5, ha="center", va="center")

fig.savefig("out.png", dpi=100)
